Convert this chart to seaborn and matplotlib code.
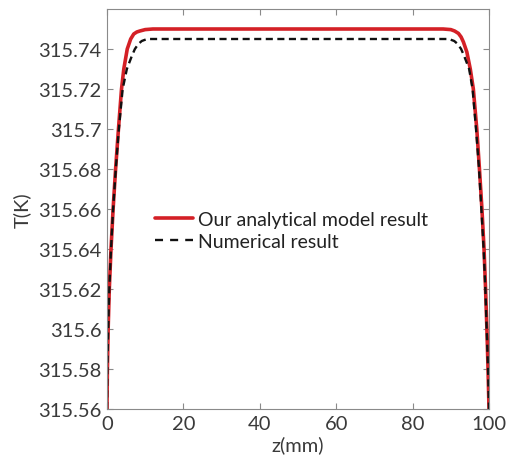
import matplotlib
matplotlib.use("Agg")
import matplotlib.pyplot as plt
import seaborn as sns
import pandas as pd

# ---- data ----
z_model = [0, 0.1, 0.3, 0.6, 1.05, 1.6, 2.25, 3.0, 3.8, 4.4, 5.3, 6.2, 7.0, 7.8, 8.6,
           10, 12, 30, 50, 70, 88, 90, 91, 92.0, 92.7, 93.3, 94.2, 95.1, 95.9, 96.8, 97.5,
           98.15, 98.7, 99.1, 99.45, 99.75, 100]
T_model = [315.56, 315.58, 315.60, 315.62, 315.64, 315.66, 315.68, 315.70, 315.72, 315.73,
           315.74, 315.745, 315.7475, 315.7485, 315.749, 315.7497, 315.75, 315.75, 315.75,
           315.75, 315.75, 315.7497, 315.749, 315.7478, 315.746, 315.7435, 315.7385, 315.73, 315.72,
           315.70, 315.68, 315.66, 315.64, 315.62, 315.60, 315.58, 315.56]

z_num = [0, 0.1, 0.3, 0.6, 1.05, 1.6, 2.3, 3.1, 4.1, 5.2, 6.5, 7.3, 8.2, 9.1, 10.5,
         30, 50, 70, 89.5, 90.9, 91.8, 92.7, 93.5, 94.8, 95.7, 96.6, 97.4, 98.0, 98.6,
         99.05, 99.4, 99.75, 100]
T_num = [315.56, 315.58, 315.60, 315.62, 315.64, 315.66, 315.68, 315.70, 315.72, 315.73,
         315.7365, 315.74, 315.7425, 315.744, 315.745, 315.745, 315.745, 315.745, 315.745,
         315.744, 315.7425, 315.74, 315.7365, 315.73, 315.72, 315.70, 315.68, 315.66,
         315.64, 315.62, 315.60, 315.58, 315.56]

series_labels = ["Our analytical model result", "Numerical result"]
x_ticks = [0, 20, 40, 60, 80, 100]
y_ticks = [315.56, 315.58, 315.60, 315.62, 315.64, 315.66, 315.68, 315.70, 315.72, 315.74]
y_tick_labels = ["315.56", "315.58", "315.6", "315.62", "315.64", "315.66",
                 "315.68", "315.7", "315.72", "315.74"]

# ---- style ----
sns.set_style("white")
plt.rcParams["font.family"] = ["Lato", "DejaVu Sans"]

fig = plt.figure(figsize=(5.11, 4.64), dpi=100)
ax = fig.add_axes([107 / 511, 54 / 464, 382 / 511, 400 / 464])

df_model = pd.DataFrame({"z": z_model, "T": T_model})
df_num = pd.DataFrame({"z": z_num, "T": T_num})

sns.lineplot(data=df_model, x="z", y="T", ax=ax, color="#d42026", linewidth=2.6,
             label=series_labels[0], sort=False)
sns.lineplot(data=df_num, x="z", y="T", ax=ax, color="#111111", linewidth=1.7,
             label=series_labels[1], sort=False)
ax.lines[1].set_linestyle((0, (3.0, 1.9)))

ax.set_xlim(0, 100)
ax.set_ylim(315.56, 315.76)
ax.set_xticks(x_ticks)
ax.set_yticks(y_ticks)
ax.set_yticklabels(y_tick_labels)

for s in ax.spines.values():
    s.set_color("#8a8a8a")
    s.set_linewidth(0.8)
    s.set_visible(True)
ax.tick_params(direction="in", length=4, width=0.8, color="#8a8a8a",
               labelsize=14.5, labelcolor="#3a3a3a", top=True, right=True,
               bottom=True, left=True, pad=4)

ax.set_xlabel("z(mm)", fontsize=14.5, color="#3a3a3a", labelpad=3)
ax.set_ylabel("T(K)", fontsize=14.5, color="#3a3a3a", labelpad=5)

leg = ax.legend(loc="center left", bbox_to_anchor=(0.125, 0.447), frameon=False,
                fontsize=14, handlelength=1.95, handletextpad=0.25,
                borderpad=0, borderaxespad=0, labelspacing=0.25)
for h in leg.legend_handles[1:]:
    h.set_linestyle((0, (3.4, 3.0)))
for t in leg.get_texts():
    t.set_color("#222222")

fig.savefig("out.png", dpi=100)
